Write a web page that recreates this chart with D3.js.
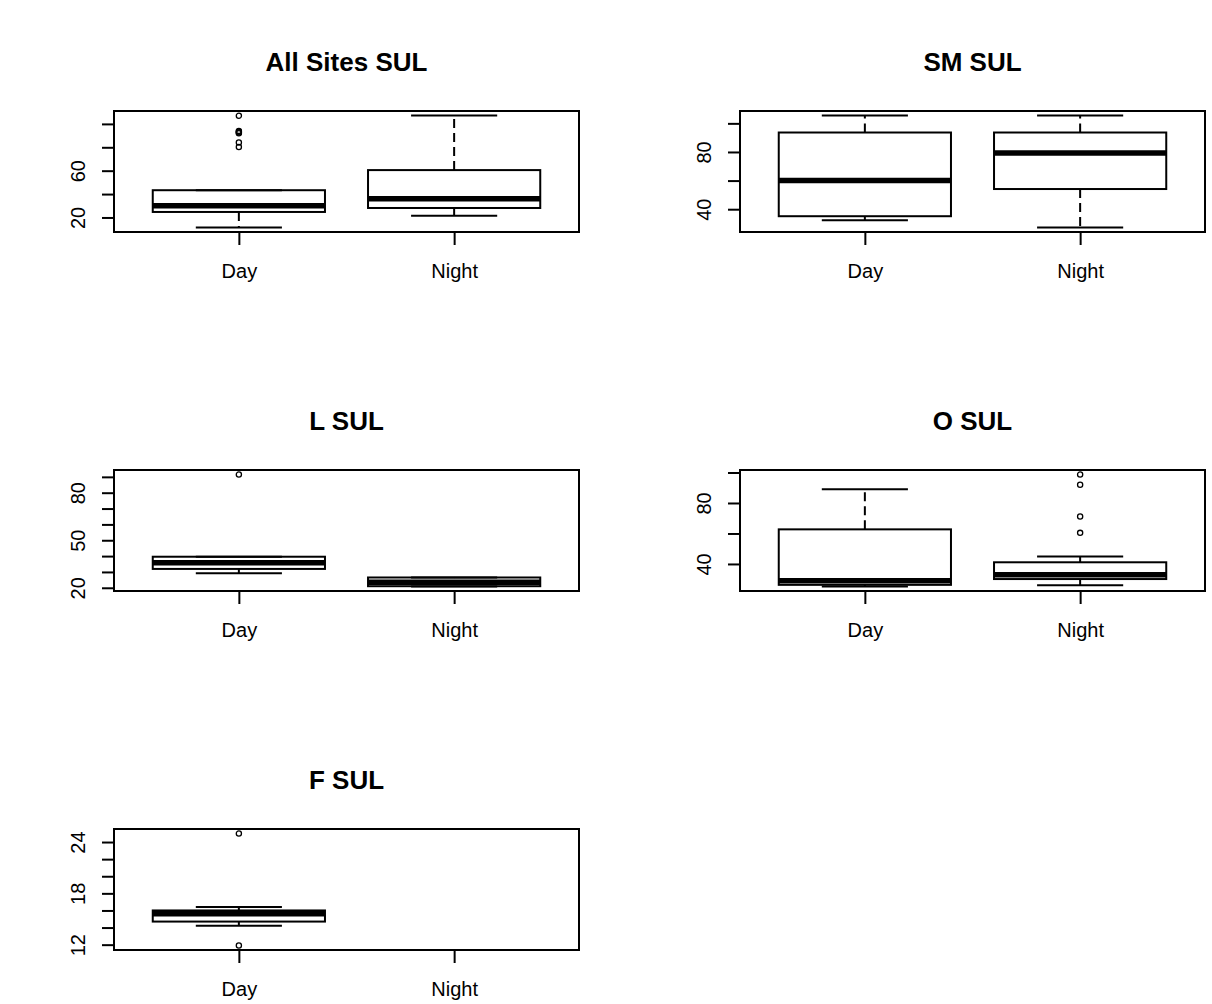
<!DOCTYPE html>
<html>
<head>
<meta charset="utf-8">
<script src="https://cdn.jsdelivr.net/npm/d3@7"></script>
<style>
  html, body { margin: 0; padding: 0; background: #ffffff; }
  svg { display: block; }
</style>
</head>
<body>
<script>
// ---- data ----
const titles = ["All Sites SUL", "SM SUL", "L SUL", "O SUL", "F SUL"];
const categories = ["Day", "Night"];
// five-number summaries per panel: [Day, Night]
const whiskerLow  = [[11.4, 21.5], [32.3, 27.2], [29.1, 20.8], [25.2, 26.0], [14.2, null]];
const hingeLow    = [[24.7, 28.1], [35.1, 54.1], [31.9, 21.0], [26.3, 30.1], [14.7, null]];
const medians     = [[30.0, 35.9], [60.0, 79.2], [35.8, 23.5], [29.0, 33.0], [15.6, null]];
const hingeHigh   = [[43.3, 60.5], [93.6, 93.6], [39.6, 26.5], [62.7, 41.1], [16.0, null]];
const whiskerHigh = [[43.3, 107.2], [105.5, 105.5], [39.6, 26.5], [89.0, 44.9], [16.4, null]];
const outliers    = [
  [[107, 94, 93.3, 92.6, 92, 84.1, 80.3], []],
  [[], []],
  [[91.5], []],
  [[], [98.7, 92, 71.1, 60.4]],
  [[25.0, 11.9], []]
];
const tickValues = [
  [20, 40, 60, 80, 100],
  [40, 60, 80, 100],
  [20, 30, 40, 50, 60, 70, 80, 90],
  [40, 60, 80, 100],
  [12, 14, 16, 18, 20, 22, 24]
];
const tickLabels = [
  [20, 60],
  [40, 80],
  [20, 50, 80],
  [40, 80],
  [12, 18, 24]
];

// ---- layout ----
const W = 1212, H = 1004;
const colX = [114, 740];
const rowY = [111, 470, 829];
const pw = 465, ph = 121;

const svg = d3.select("body").append("svg")
  .attr("width", W).attr("height", H)
  .style("font-family", "'Liberation Sans', Arial, sans-serif");

titles.forEach((title, i) => {
  const left = colX[i % 2], top = rowY[Math.floor(i / 2)];
  const g = svg.append("g").attr("transform", `translate(${left},${top})`);

  // all values in this panel to set the y range (R style 4% padding)
  const vals = [];
  categories.forEach((c, j) => {
    [whiskerLow, hingeLow, medians, hingeHigh, whiskerHigh].forEach(a => {
      if (a[i][j] != null) vals.push(a[i][j]);
    });
    outliers[i][j].forEach(v => vals.push(v));
  });
  const [mn, mx] = d3.extent(vals);
  const pad = (mx - mn) * 0.04;
  const y = d3.scaleLinear().domain([mn - pad, mx + pad]).range([ph, 0]);
  const x = d3.scaleLinear().domain([0.42, 2.58]).range([0, pw]);
  const bw = x(1.4) - x(1.0);   // half box width (0.8 units total)
  const cw = x(1.2) - x(1.0);   // half cap width

  // title
  svg.append("text")
    .attr("x", left + pw / 2).attr("y", top - 40)
    .attr("text-anchor", "middle")
    .attr("font-size", 26).attr("font-weight", "bold")
    .attr("fill", "#000")
    .text(title);

  // boxes
  categories.forEach((c, j) => {
    if (medians[i][j] == null) return;
    const cx = x(j + 1);
    const lo = whiskerLow[i][j], q1 = hingeLow[i][j], md = medians[i][j],
          q3 = hingeHigh[i][j], hi = whiskerHigh[i][j];
    // whiskers (dashed)
    g.append("line").attr("x1", cx).attr("x2", cx)
      .attr("y1", y(q3)).attr("y2", y(hi))
      .attr("stroke", "#000").attr("stroke-width", 2).attr("stroke-dasharray", "9,5");
    g.append("line").attr("x1", cx).attr("x2", cx)
      .attr("y1", y(q1)).attr("y2", y(lo))
      .attr("stroke", "#000").attr("stroke-width", 2).attr("stroke-dasharray", "9,5");
    // caps
    [lo, hi].forEach(v => {
      g.append("line").attr("x1", cx - cw).attr("x2", cx + cw)
        .attr("y1", y(v)).attr("y2", y(v))
        .attr("stroke", "#000").attr("stroke-width", 2);
    });
    // box
    g.append("rect")
      .attr("x", cx - bw).attr("width", 2 * bw)
      .attr("y", y(q3)).attr("height", y(q1) - y(q3))
      .attr("fill", "none").attr("stroke", "#000").attr("stroke-width", 2);
    // median
    g.append("line").attr("x1", cx - bw).attr("x2", cx + bw)
      .attr("y1", y(md)).attr("y2", y(md))
      .attr("stroke", "#000").attr("stroke-width", 5.5);
    // outliers
    g.selectAll(null).data(outliers[i][j]).enter().append("circle")
      .attr("cx", cx).attr("cy", d => y(d)).attr("r", 2.6)
      .attr("fill", "none").attr("stroke", "#000").attr("stroke-width", 1.3);
  });

  // frame
  g.append("rect").attr("x", 0).attr("y", 0).attr("width", pw).attr("height", ph)
    .attr("fill", "none").attr("stroke", "#000").attr("stroke-width", 2);

  // y axis ticks
  const yAxis = d3.axisLeft(y).tickValues(tickValues[i]).tickSize(12)
    .tickFormat(d => tickLabels[i].includes(d) ? d : "");
  const ya = g.append("g").call(yAxis);
  ya.select(".domain").remove();
  ya.selectAll(".tick line").attr("stroke", "#000").attr("stroke-width", 2);
  ya.selectAll(".tick text")
    .attr("font-size", 20).attr("font-family", "'Liberation Sans', Arial, sans-serif")
    .attr("fill", "#000")
    .attr("x", 0).attr("dy", 0)
    .attr("text-anchor", "middle")
    .attr("transform", "translate(-29,0) rotate(-90)");

  // x axis ticks and labels
  const xAxis = d3.axisBottom(x).tickValues([1, 2]).tickSize(13)
    .tickFormat(d => categories[d - 1]);
  const xa = g.append("g").attr("transform", `translate(0,${ph})`).call(xAxis);
  xa.select(".domain").remove();
  xa.selectAll(".tick line").attr("stroke", "#000").attr("stroke-width", 2);
  xa.selectAll(".tick text")
    .attr("font-size", 20).attr("font-family", "'Liberation Sans', Arial, sans-serif")
    .attr("fill", "#000")
    .attr("y", 46).attr("dy", 0);
});
</script>
</body>
</html>
